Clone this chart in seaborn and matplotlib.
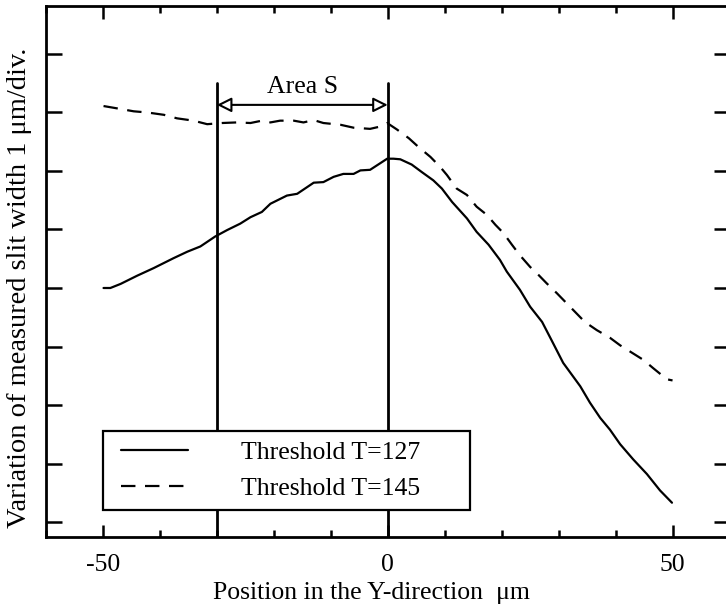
import numpy as np
import pandas as pd
import matplotlib
matplotlib.use("Agg")
import matplotlib.pyplot as plt
import seaborn as sns
from matplotlib.ticker import MultipleLocator, FixedLocator
from matplotlib.lines import Line2D
from matplotlib.legend_handler import HandlerLine2D

# ---- data ----
x_t127 = [-49.9, -48.7, -46.9, -44.0, -41.1, -37.6, -35.2, -32.9, -30.3, -28.2, -25.9, -24.1,
          -22.1, -20.6, -17.7, -15.9, -13.0, -11.3, -9.5, -7.8, -6.0, -4.8, -3.1, -0.1, 1.0,
          2.2, 4.2, 6.0, 8.0, 9.5, 11.3, 13.9, 15.6, 17.7, 19.7, 20.9, 23.2, 25.0, 27.1, 28.8,
          30.8, 33.8, 35.5, 37.3, 39.0, 40.8, 43.1, 45.5, 47.8, 49.9]
y_t127 = [4.00, 4.00, 4.07, 4.21, 4.34, 4.51, 4.62, 4.71, 4.88, 4.99, 5.10, 5.21,
          5.30, 5.44, 5.58, 5.61, 5.80, 5.81, 5.90, 5.95, 5.95, 6.01, 6.02, 6.21, 6.21,
          6.20, 6.11, 5.98, 5.84, 5.70, 5.47, 5.19, 4.96, 4.74, 4.48, 4.28, 3.97, 3.68, 3.42, 3.10,
          2.72, 2.32, 2.04, 1.78, 1.58, 1.33, 1.07, 0.82, 0.54, 0.33]

x_t145 = [-49.9, -47.5, -44.6, -42.2, -39.3, -37.0, -34.1, -31.7, -29.1, -26.5, -24.1, -22.1,
          -20.6, -18.9, -16.5, -14.8, -13.0, -11.3, -8.3, -6.0, -3.1, -1.3, -0.1, 1.6, 3.7,
          5.4, 7.5, 9.2, 10.4, 12.1, 13.9, 15.6, 17.4, 18.9, 20.3, 21.8, 23.2, 25.0, 26.2,
          27.9, 29.7, 31.4, 33.2, 34.6, 36.7, 39.0, 40.8, 43.1, 44.9, 46.6, 49.0, 50.0]
y_t145 = [7.11, 7.07, 7.02, 7.00, 6.96, 6.90, 6.86, 6.80, 6.82, 6.83, 6.82, 6.86,
          6.83, 6.86, 6.86, 6.83, 6.87, 6.82, 6.79, 6.74, 6.72, 6.76, 6.82, 6.71, 6.56,
          6.41, 6.24, 6.07, 5.93, 5.70, 5.59, 5.39, 5.25, 5.08, 4.94, 4.74, 4.56, 4.36, 4.25,
          4.08, 3.91, 3.74, 3.56, 3.42, 3.28, 3.15, 3.02, 2.88, 2.77, 2.63, 2.44, 2.42]

labels = ["Threshold T=127", "Threshold T=145"]
area_bounds = [-30, 0]
area_label = "Area S"
x_major = [-50, 0, 50]
x_label = "Position in the Y-direction  μm"
y_label = "Variation of measured slit width 1 μm/div."

df = pd.concat([
    pd.DataFrame({"x": x_t127, "y": y_t127, "series": labels[0]}),
    pd.DataFrame({"x": x_t145, "y": y_t145, "series": labels[1]}),
])

sns.set_style("ticks")
plt.rcParams["font.family"] = ["Liberation Serif", "DejaVu Serif"]
plt.rcParams.update({
    "text.color": "black", "axes.edgecolor": "black", "axes.labelcolor": "black",
    "xtick.color": "black", "ytick.color": "black", "axes.unicode_minus": False,
})
FS = 18.5

fig = plt.figure(figsize=(7.26, 6.09), dpi=100)
ax = fig.add_axes([46 / 726, 1 - 537 / 609, (729.5 - 46) / 726, (537 - 6) / 609])

sns.lineplot(data=df, x="x", y="y", hue="series", style="series",
             palette=["black", "black"], dashes=[(None, None), (6.5, 4.3)],
             linewidth=1.6, ax=ax, sort=False, estimator=None, legend=False)

# Area S boundaries
for xv in area_bounds:
    ax.plot([xv, xv], [-0.5, 7.5], color="black", lw=2.0, zorder=3)
ax.annotate("", xy=(area_bounds[0], 7.13), xytext=(area_bounds[1], 7.13),
            arrowprops=dict(arrowstyle="<|-|>", color="black", fc="white", lw=1.5,
                            mutation_scale=22, shrinkA=0, shrinkB=0))
ax.text(sum(area_bounds) / 2, 7.25, area_label, ha="center", va="bottom", fontsize=FS)

ax.set_xlim(-60, 60)
ax.set_ylim(-0.256, 8.82)
ax.xaxis.set_major_locator(FixedLocator(x_major))
ax.xaxis.set_minor_locator(MultipleLocator(10))
ax.yaxis.set_major_locator(MultipleLocator(1))
ax.set_yticklabels([])
ax.tick_params(axis="x", which="major", direction="in", length=9, width=1.8,
               top=True, labelsize=FS, pad=12.3)
ax.tick_params(axis="x", which="minor", direction="in", length=4.8, width=1.8, top=True)
ax.tick_params(axis="y", which="major", direction="in", length=11.5, width=1.8,
               right=True, left=True, labelleft=False)
for s in ax.spines.values():
    s.set_linewidth(2.0)
    s.set_visible(True)
ax.set_xlabel("")
ax.set_ylabel("")

# legend
handles = [Line2D([], [], color="black", lw=1.6),
           Line2D([], [], color="black", lw=1.6, dashes=(6.5, 4.3))]
hm = {h: HandlerLine2D(xpad=0.31) for h in handles}
leg = ax.legend(handles, [l + "      " for l in labels], loc="upper left",
                bbox_to_anchor=(0.083, 0.2002), handler_map=hm,
                borderaxespad=0, fontsize=FS, frameon=True, fancybox=False,
                handlelength=2.91, handletextpad=2.05, labelspacing=0.47,
                borderpad=0.42, framealpha=1)
leg.get_frame().set_edgecolor("black")
leg.get_frame().set_linewidth(1.6)
leg.set_zorder(5)

fig.text(371 / 726, 1 - 593 / 609, x_label, ha="center", va="center", fontsize=FS)
fig.text(20 / 726, 1 - 288 / 609, y_label, ha="center", va="center", rotation=90, fontsize=20.5)

fig.savefig("out.png", dpi=100)
